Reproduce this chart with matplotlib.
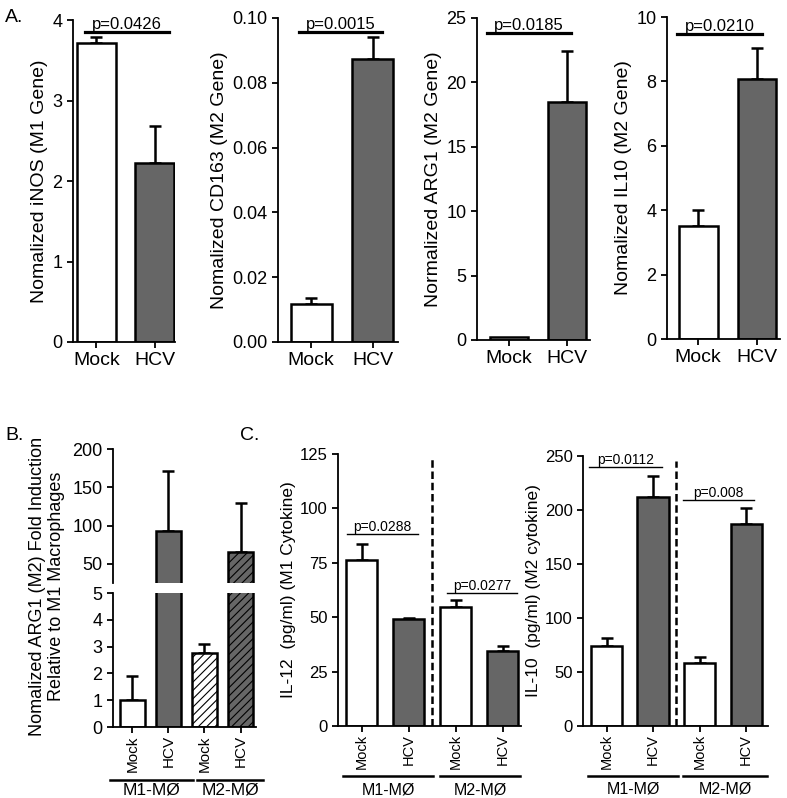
import matplotlib
matplotlib.use("Agg")
import matplotlib.pyplot as plt
import numpy as np

plt.rcParams["font.family"] = ["Liberation Sans", "DejaVu Sans"]
plt.rcParams["hatch.linewidth"] = 0.8

W, H = 787, 798

# ---- data ----
groups_a = ["Mock", "HCV"]
inos = [3.72, 2.22]
inos_err = [0.07, 0.46]
cd163 = [0.0118, 0.0875]
cd163_err = [0.0017, 0.0065]
arg1 = [0.2, 18.5]
arg1_err = [0.0, 3.9]
il10_gene = [3.5, 8.07]
il10_gene_err = [0.52, 0.98]

groups_bc = ["Mock", "HCV", "Mock", "HCV"]
cells = ["M1-MØ", "M2-MØ"]
arg1_fold = [1.0, 93.0, 2.75, 65.6]
arg1_fold_err = [0.92, 78.0, 0.33, 64.0]
il12 = [76.5, 49.0, 54.5, 34.5]
il12_err = [7.0, 0.5, 3.5, 2.3]
il10 = [74.0, 212.0, 58.5, 187.0]
il10_err = [7.5, 19.5, 5.5, 15.0]

WHITE, GREY = "white", "#666666"


def px_axes(fig, x0, y0, x1, y1):
    # rectangle given in pixel coords of the image (y down)
    return fig.add_axes([x0 / W, 1 - y1 / H, (x1 - x0) / W, (y1 - y0) / H])


def style(ax, fs):
    for s in ["top", "right"]:
        ax.spines[s].set_visible(False)
    for s in ["left", "bottom"]:
        ax.spines[s].set_linewidth(1.3)
    ax.tick_params(width=1.3, length=4, labelsize=fs)


def bars(ax, vals, errs, colors, width, hatches=None):
    x = np.arange(len(vals))
    hatches = hatches or [None] * len(vals)
    for xi, v, e, c, h in zip(x, vals, errs, colors, hatches):
        ax.bar(xi, v, width, color=c, edgecolor="black", linewidth=1.8,
               hatch=h, zorder=2)
        if e > 0:
            ax.errorbar(xi, v, yerr=[[0], [e]], color="black", capsize=4.5,
                        capthick=1.8, elinewidth=1.8, zorder=1)
    return x


def pline(ax, x0, x1, y, txt, fs, lw=2.0):
    ax.plot([x0, x1], [y, y], color="black", lw=lw, clip_on=False)
    ax.text((x0 + x1) / 2, y, txt, ha="center", va="bottom", fontsize=fs,
            clip_on=False)


fig = plt.figure(figsize=(W / 100, H / 100), dpi=100)

# ---- panel A ----
a_specs = [
    ((73, 20, 175, 342), inos, inos_err, (0, 4), [0, 1, 2, 3, 4], "{:.0f}",
     "Nomalized iNOS (M1 Gene)", (-0.4, 1.35), 3.85, "p=0.0426", (-0.2, 1.25)),
    ((278, 18, 398, 342), cd163, cd163_err, (0, 0.1), [0, 0.02, 0.04, 0.06, 0.08, 0.10], "{:.2f}",
     "Nomalized CD163 (M2 Gene)", (-0.54, 1.41), 0.0957, "p=0.0015", (-0.2, 1.15)),
    ((477, 18, 590, 340), arg1, arg1_err, (0, 25), [0, 5, 10, 15, 20, 25], "{:.0f}",
     "Normalized ARG1 (M2 Gene)", (-0.55, 1.4), 23.8, "p=0.0185", (-0.38, 1.08)),
    ((667, 17, 780, 339), il10_gene, il10_gene_err, (0, 10), [0, 2, 4, 6, 8, 10], "{:.0f}",
     "Nomalized IL10 (M2 Gene)", (-0.53, 1.39), 9.47, "p=0.0210", (-0.36, 1.08)),
]
for rect, vals, errs, ylim, yt, fmt, ylab, xlim, py, ptxt, pxr in a_specs:
    ax = px_axes(fig, *rect)
    style(ax, 13)
    x = bars(ax, vals, errs, [WHITE, GREY], 0.66)
    ax.set_xlim(*xlim)
    ax.set_ylim(*ylim)
    ax.set_yticks(yt)
    ax.set_yticklabels([fmt.format(t) for t in yt])
    ax.set_xticks(x)
    ax.set_xticklabels(groups_a, fontsize=14)
    ax.set_ylabel(ylab, fontsize=14, labelpad=3)
    pline(ax, pxr[0], pxr[1], py, ptxt, 12, lw=2.3)

fig.text(5 / W, 1 - 18 / H, "A.", fontsize=14, va="center")

# ---- panel B (broken axis) ----
ax_top = px_axes(fig, 113, 449, 256, 583)
ax_bot = px_axes(fig, 113, 593, 256, 727)
b_colors = [WHITE, GREY, WHITE, GREY]
b_hatch = [None, None, "////", "////"]
for ax in (ax_top, ax_bot):
    style(ax, 13)
    x = bars(ax, arg1_fold, arg1_fold_err, b_colors, 0.69, b_hatch)
    ax.set_xlim(-0.54, 3.43)
ax_top.set_ylim(25, 200)
ax_top.set_yticks([50, 100, 150, 200])
ax_top.spines["bottom"].set_visible(False)
ax_top.set_xticks([])
ax_bot.set_ylim(0, 5)
ax_bot.set_yticks([0, 1, 2, 3, 4, 5])
ax_bot.set_xticks(x)
ax_bot.set_xticklabels(groups_bc, rotation=90, fontsize=11)
ax_bot.tick_params(axis="x", pad=2)
for k, (x0, x1) in enumerate([(-0.62, 1.68), (1.79, 3.63)]):
    ax_bot.plot([x0, x1], [-0.395, -0.395], transform=ax_bot.get_xaxis_transform(),
                color="black", lw=1.8, clip_on=False)
    ax_bot.text((x0 + x1) / 2, -0.47, cells[k], transform=ax_bot.get_xaxis_transform(),
                ha="center", va="center", fontsize=12.5)
fig.text(47 / W, 1 - 586 / H,
         "Nomalized ARG1 (M2) Fold Induction\nRelative to M1 Macrophages",
         rotation=90, ha="center", va="center", fontsize=13, multialignment="center",
         linespacing=1.1)
fig.text(5 / W, 1 - 436 / H, "B.", fontsize=14, va="center")

# ---- panel C ----
c_specs = [
    ((338, 454, 521, 726), il12, il12_err, (0, 125), [0, 25, 50, 75, 100, 125],
     "IL-12  (pg/ml) (M1 Cytokine)", (-0.5, 3.39),
     [(-0.31, 1.2, 88.2, "p=0.0288"), (1.82, 3.31, 61.0, "p=0.0277")],
     [(-0.39, 1.52), (1.67, 3.37)]),
    ((583, 456, 768, 726), il10, il10_err, (0, 250), [0, 50, 100, 150, 200, 250],
     "IL-10  (pg/ml) (M2 cytokine)", (-0.505, 3.47),
     [(-0.38, 1.19, 240, "p=0.0112"), (1.64, 3.17, 209, "p=0.008")],
     [(-0.4, 1.54), (1.65, 3.45)]),
]
for rect, vals, errs, ylim, yt, ylab, xlim, plines, glines in c_specs:
    ax = px_axes(fig, *rect)
    style(ax, 12)
    x = bars(ax, vals, errs, [WHITE, GREY, WHITE, GREY], 0.67)
    ax.set_xlim(*xlim)
    ax.set_ylim(*ylim)
    ax.set_yticks(yt)
    ax.set_xticks(x)
    ax.set_xticklabels(groups_bc, rotation=90, fontsize=10.5)
    ax.tick_params(axis="x", pad=2)
    ax.set_ylabel(ylab, fontsize=12.5, labelpad=3)
    ax.axvline(1.5, ymax=0.98, color="black", lw=1.8, ls=(0, (3, 1.5)))
    for x0, x1, y, t in plines:
        pline(ax, x0, x1, y, t, 10, lw=1.0)
    for k, (x0, x1) in enumerate(glines):
        ax.plot([x0, x1], [-0.184, -0.184], transform=ax.get_xaxis_transform(),
                color="black", lw=1.8, clip_on=False)
        ax.text((x0 + x1) / 2, -0.235, cells[k], transform=ax.get_xaxis_transform(),
                ha="center", va="center", fontsize=11.5)
fig.text(240 / W, 1 - 436 / H, "C.", fontsize=14, va="center")

fig.savefig("out.png", dpi=100)
